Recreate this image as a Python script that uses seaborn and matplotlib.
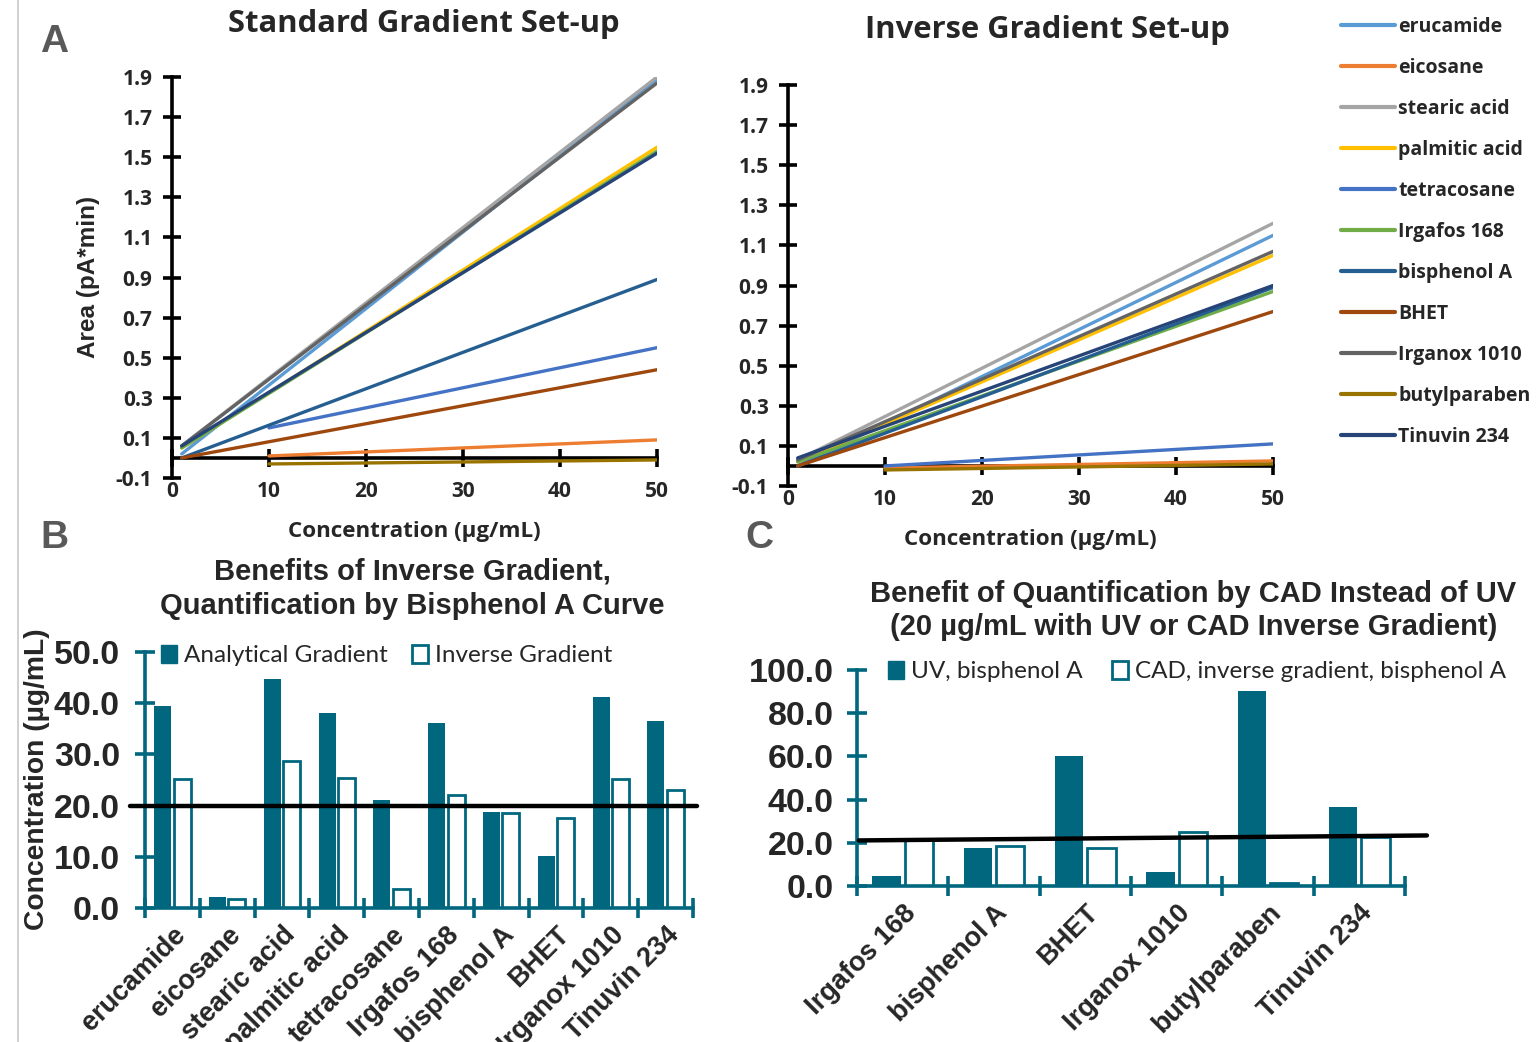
import numpy as np
import pandas as pd
import matplotlib
matplotlib.use("Agg")
import matplotlib.pyplot as plt
import seaborn as sns
from matplotlib.lines import Line2D
from matplotlib.patches import Patch

# ---------------- data ----------------
compounds = ["erucamide", "eicosane", "stearic acid", "palmitic acid", "tetracosane",
             "Irgafos 168", "bisphenol A", "BHET", "Irganox 1010", "butylparaben", "Tinuvin 234"]
line_colors = ["#5B9BD5", "#ED7D31", "#A5A5A5", "#FFC000", "#4472C4",
               "#70AD47", "#255E91", "#9E480E", "#636363", "#997300", "#264478"]

# calibration lines (start conc, start area, end conc, end area)
std_x0 = [1, 10, 1, 1, 10, 1, 1, 1, 1, 10, 1]
std_y0 = [0.02, 0.01, 0.06, 0.05, 0.15, 0.05, 0.00, 0.00, 0.06, -0.03, 0.06]
std_x1 = [50, 50, 50, 50, 50, 50, 50, 50, 50, 50, 50]
std_y1 = [1.89, 0.09, 1.90, 1.55, 0.55, 1.53, 0.89, 0.44, 1.87, -0.01, 1.52]

inv_x0 = [1, 10, 1, 1, 10, 1, 1, 1, 1, 10, 1]
inv_y0 = [0.00, -0.01, 0.03, 0.02, 0.00, 0.02, 0.00, 0.00, 0.03, -0.02, 0.04]
inv_x1 = [50, 50, 50, 50, 50, 50, 50, 50, 50, 50, 50]
inv_y1 = [1.15, 0.025, 1.21, 1.05, 0.11, 0.87, 0.89, 0.77, 1.07, 0.01, 0.90]

line_yticks = [-0.1, 0.1, 0.3, 0.5, 0.7, 0.9, 1.1, 1.3, 1.5, 1.7, 1.9]
line_xticks = [0, 10, 20, 30, 40, 50]

b_cats = ["erucamide", "eicosane", "stearic acid", "palmitic acid", "tetracosane",
          "Irgafos 168", "bisphenol A", "BHET", "Irganox 1010", "Tinuvin 234"]
b_analytical = [39.5, 2.2, 44.7, 38.1, 21.1, 36.1, 18.7, 10.2, 41.3, 36.6]
b_inverse = [25.2, 1.8, 28.8, 25.3, 3.8, 22.0, 18.6, 17.6, 25.2, 23.1]
b_series = ["Analytical Gradient", "Inverse Gradient"]
b_ref = 20.0
b_yticks = [0, 10, 20, 30, 40, 50]

c_cats = ["Irgafos 168", "bisphenol A", "BHET", "Irganox 1010", "butylparaben", "Tinuvin 234"]
c_uv = [4.6, 17.6, 60.3, 6.5, 90.2, 36.5]
c_cad = [21.9, 18.5, 17.6, 25.1, 1.5, 22.5]
c_series = ["UV, bisphenol A", "CAD, inverse gradient, bisphenol A"]
c_line_x = [-0.48, 5.74]
c_line_y = [21.1, 23.4]
c_yticks = [0, 20, 40, 60, 80, 100]

TEAL = "#00677F"

# ---------------- style ----------------
sns.set_style("white")
plt.rcParams["font.family"] = ["Open Sans", "DejaVu Sans"]
CALB = ["Open Sans", "DejaVu Sans"]      # bold Calibri-like
CAL = ["Lato", "DejaVu Sans"]            # regular Calibri-like
ARI = ["Liberation Sans", "DejaVu Sans"]
NAR = ["Liberation Sans Narrow", "Liberation Sans", "DejaVu Sans"]

W, H = 1540, 1042
fig = plt.figure(figsize=(W / 100, H / 100), dpi=100)


def ax_px(left, top, right, bottom):
    return fig.add_axes([left / W, 1 - bottom / H, (right - left) / W, (bottom - top) / H])


def line_df(x0, y0, x1, y1):
    rows = []
    for name, a, b, c, d in zip(compounds, x0, y0, x1, y1):
        rows.append({"compound": name, "conc": a, "area": b})
        rows.append({"compound": name, "conc": c, "area": d})
    return pd.DataFrame(rows)


pal = dict(zip(compounds, line_colors))


def style_line_ax(ax):
    ax.set_xlim(0, 50)
    ax.set_ylim(-0.1, 1.9)
    ax.set_xlabel("")
    ax.set_ylabel("")
    for s in ["top", "right"]:
        ax.spines[s].set_visible(False)
    ax.spines["left"].set_linewidth(2.6)
    ax.spines["left"].set_color("black")
    ax.spines["bottom"].set_position(("data", 0))
    ax.spines["bottom"].set_linewidth(2.6)
    ax.spines["bottom"].set_color("black")
    ax.spines["bottom"].set_zorder(1)
    ax.set_yticks(line_yticks)
    ax.set_yticklabels([f"{v:.1f}" for v in line_yticks])
    ax.tick_params(axis="y", direction="inout", length=13, width=2.6, color="black",
                   labelsize=15, pad=7.5, left=True)
    ax.set_xticks(line_xticks)
    ax.tick_params(axis="x", direction="inout", length=13, width=2.6, color="black",
                   labelbottom=False, bottom=True)
    for lab in ax.get_yticklabels():
        lab.set_fontweight("bold")
        lab.set_family(CALB)
    sec = ax.secondary_xaxis("bottom")
    sec.set_xticks(line_xticks)
    sec.set_xticklabels([str(v) for v in line_xticks])
    sec.tick_params(length=0, labelsize=15, pad=2)
    sec.spines["bottom"].set_visible(False)
    for lab in sec.get_xticklabels():
        lab.set_fontweight("bold")
        lab.set_family(CALB)


# ---------------- Panel A (standard) ----------------
axA = ax_px(172, 77, 657, 478)
sns.lineplot(data=line_df(std_x0, std_y0, std_x1, std_y1), x="conc", y="area", hue="compound",
             hue_order=compounds, palette=pal, estimator=None, sort=False, linewidth=2.4,
             legend=False, ax=axA)
style_line_ax(axA)

# ---------------- Panel A (inverse) ----------------
axI = ax_px(788, 85, 1273, 486)
sns.lineplot(data=line_df(inv_x0, inv_y0, inv_x1, inv_y1), x="conc", y="area", hue="compound",
             hue_order=compounds, palette=pal, estimator=None, sort=False, linewidth=2.4,
             legend=False, ax=axI)
style_line_ax(axI)

handles = [Line2D([], [], color=c, lw=3) for c in line_colors]
leg = fig.legend(handles, compounds, loc="upper left", bbox_to_anchor=(1341 / W, 1 - 17 / H),
                 frameon=False, borderpad=0, borderaxespad=0, handlelength=2.8,
                 handletextpad=0.15, labelspacing=1.08,
                 prop={"family": CALB, "weight": "bold", "size": 14})

fig.text(424 / W, 1 - 24 / H, "Standard Gradient Set-up", ha="center", va="center",
         fontsize=22.3, fontweight="bold", family=CALB)
fig.text(1047 / W, 1 - 30 / H, "Inverse Gradient Set-up", ha="center", va="center",
         fontsize=22.3, fontweight="bold", family=CALB)
fig.text(88 / W, 1 - 277 / H, "Area (pA*min)", rotation=90, ha="center", va="center",
         fontsize=17.5, fontweight="bold", family=ARI)
fig.text(414 / W, 1 - 531 / H, "Concentration (µg/mL)", ha="center", va="center",
         fontsize=16.1, fontweight="bold", family=CALB)
fig.text(1030 / W, 1 - 539 / H, "Concentration (µg/mL)", ha="center", va="center",
         fontsize=16.1, fontweight="bold", family=CALB)


# ---------------- bar panels ----------------
def style_bar_ax(ax, ncat, yticks, ymax, pad):
    ax.set_ylim(0, ymax)
    ax.set_xlim(-0.5, ncat - 0.5)
    ax.set_xlabel("")
    ax.set_ylabel("")
    for s in ["top", "right"]:
        ax.spines[s].set_visible(False)
    for s in ["left", "bottom"]:
        ax.spines[s].set_color(TEAL)
        ax.spines[s].set_linewidth(2.6)
    ax.set_yticks(yticks)
    ax.set_yticklabels([f"{v:.1f}" for v in yticks])
    ax.tick_params(axis="y", direction="inout", length=14, width=2.6, color=TEAL,
                   labelsize=24.5, pad=pad, left=True)
    for lab in ax.get_yticklabels():
        lab.set_fontweight("bold")
        lab.set_family(NAR)
    ax.set_xticks(np.arange(-0.5, ncat, 1.0), minor=True)
    ax.tick_params(axis="x", which="minor", direction="inout", length=14, width=2.6,
                   color=TEAL, bottom=True)
    ax.tick_params(axis="x", which="major", length=0, pad=10)
    for lab in ax.get_xticklabels():
        lab.set_rotation(45)
        lab.set_ha("right")
        lab.set_rotation_mode("anchor")
        lab.set_fontweight("bold")
        lab.set_family(ARI)
        lab.set_fontsize(19.5)


def open_second(ax):
    for p in ax.containers[0]:
        p.set_facecolor(TEAL)
        p.set_edgecolor(TEAL)
        p.set_linewidth(0)
    for p in ax.containers[1]:
        p.set_facecolor("white")
        p.set_edgecolor(TEAL)
        p.set_linewidth(2.0)


# Panel B
axB = ax_px(145, 652, 693, 908)
df_b = pd.DataFrame({
    "compound": b_cats * 2,
    "conc": b_analytical + b_inverse,
    "series": [b_series[0]] * len(b_cats) + [b_series[1]] * len(b_cats),
})
sns.barplot(data=df_b, x="compound", y="conc", hue="series", hue_order=b_series,
            palette=[TEAL, TEAL], width=0.71, gap=0.12, legend=False, ax=axB)
open_second(axB)
style_bar_ax(axB, len(b_cats), b_yticks, 50, 11)
axB.axhline(b_ref, xmin=-0.028, xmax=1.008, color="black", lw=3.2, clip_on=False, zorder=5)
axB.legend([Patch(facecolor=TEAL, edgecolor=TEAL), Patch(facecolor="white", edgecolor=TEAL, lw=2)],
           b_series, loc="upper left", bbox_to_anchor=(0.029, 1.027), ncol=2, frameon=False,
           borderpad=0, borderaxespad=0, handlelength=0.65, handleheight=0.75,
           handletextpad=0.3, columnspacing=1.0, prop={"family": CAL, "size": 17.5})

fig.text(412 / W, 1 - 572 / H, "Benefits of Inverse Gradient,", ha="center", va="center",
         fontsize=21, fontweight="bold", family=ARI)
fig.text(412 / W, 1 - 606 / H, "Quantification by Bisphenol A Curve", ha="center", va="center",
         fontsize=21, fontweight="bold", family=ARI)
fig.text(37 / W, 1 - 779 / H, "Concentration (µg/mL)", rotation=90, ha="center", va="center",
         fontsize=20.3, fontweight="bold", family=ARI)

# Panel C
axC = ax_px(857, 670, 1405, 886)
df_c = pd.DataFrame({
    "compound": c_cats * 2,
    "conc": c_uv + c_cad,
    "series": [c_series[0]] * len(c_cats) + [c_series[1]] * len(c_cats),
})
sns.barplot(data=df_c, x="compound", y="conc", hue="series", hue_order=c_series,
            palette=[TEAL, TEAL], width=0.71, gap=0.12, legend=False, ax=axC)
open_second(axC)
style_bar_ax(axC, len(c_cats), c_yticks, 100, 10)
axC.plot(c_line_x, c_line_y, color="black", lw=3.2, clip_on=False, zorder=5)
axC.legend([Patch(facecolor=TEAL, edgecolor=TEAL), Patch(facecolor="white", edgecolor=TEAL, lw=2)],
           c_series, loc="upper left", bbox_to_anchor=(0.057, 1.043), ncol=2, frameon=False,
           borderpad=0, borderaxespad=0, handlelength=0.65, handleheight=0.75,
           handletextpad=0.3, columnspacing=1.2, prop={"family": CAL, "size": 17.5})

fig.text(1193 / W, 1 - 594 / H, "Benefit of Quantification by CAD Instead of UV", ha="center",
         va="center", fontsize=21, fontweight="bold", family=ARI)
fig.text(1194 / W, 1 - 627 / H, "(20 µg/mL with UV or CAD Inverse Gradient)", ha="center",
         va="center", fontsize=21, fontweight="bold", family=ARI)

# panel letters
for txt, x, y in [("A", 54, 42), ("B", 54, 538), ("C", 759, 538)]:
    fig.text(x / W, 1 - y / H, txt, ha="center", va="center", fontsize=28,
             fontweight="bold", color="#595959", family=ARI)

fig.add_artist(Line2D([18 / W, 18 / W], [0, 1], color="#C8C8C8", lw=1.2,
                      transform=fig.transFigure))

fig.savefig("out.png", dpi=100)
